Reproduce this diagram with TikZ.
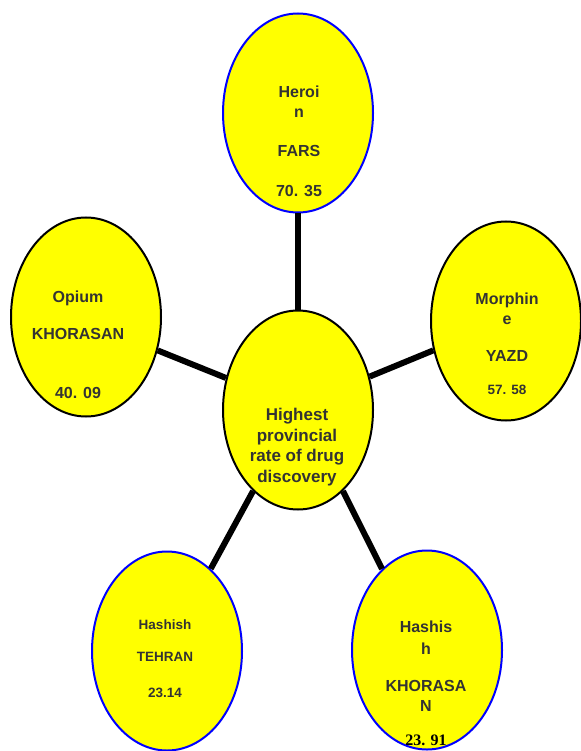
\documentclass[tikz,border=0pt]{standalone}
\usepackage{fontspec}
\setmainfont{Liberation Sans}
\newfontfamily\serifnum{Liberation Serif}
\usetikzlibrary{shapes.geometric}
\definecolor{inkgray}{HTML}{333333}
\definecolor{bubblefill}{HTML}{FFFF00}

\begin{document}
\begin{tikzpicture}[x=1pt,y=-1pt,
		bubble/.style={ellipse, draw=black, line width=2pt, fill=bubblefill, minimum width=150pt, minimum height=199pt, inner sep=0pt},
		bluebubble/.style={bubble, draw=blue},
		txt/.style={align=center, text=inkgray, font=\bfseries\fontsize{16}{19}\selectfont},
		smalltxt/.style={txt, font=\bfseries\fontsize{13.5}{16}\selectfont},
		link/.style={line width=6pt}]
		\useasboundingbox (0,0) rectangle (580,751);
		% the six bubbles
		\node[bluebubble] (heroin) at (298,113) {};
		\node[bubble] (opium) at (86,317) {};
		\node[bubble] (morphine) at (506,321) {};
		\node[bubble] (hub) at (298,410) {};
		\node[bluebubble] (hasht) at (167,651) {};
		\node[bluebubble] (hashk) at (427,650) {};
		% spokes
		\draw [link] (heroin.south) -- (hub.north);
		\draw [link] (opium.-25) -- (hub.156);
		\draw [link] (morphine.202) -- (hub.25);
		\draw [link] (hasht.62) -- (hub.241);
		\draw [link] (hashk.119) -- (hub.299);
		% texts
		\node[txt] (heroin-t) at (299,141) {Heroi\\[1pt]n\\[20pt]FARS\\[21pt]70. 35};
		\node[txt] (opium-t) at (78,345) {Opium\\[18pt]KHORASAN\\[40pt]40. 09};
		\node[txt] (morphine-t) at (507,344) {Morphin\\[1pt]e\\[18pt]YAZD\\[14pt]{\fontsize{13.5}{16}\selectfont 57. 58}};
		\node[txt, font=\bfseries\fontsize{17}{20.5}\selectfont] (hub-t) at (297,447) {Highest\\provincial\\rate of drug\\discovery};
		\node[smalltxt] (hasht-t) at (165,659) {Hashish\\[16pt]TEHRAN\\[20pt]23.14};
		\node[txt] (hashk-t) at (426,666) {Hashis\\[3pt]h\\[18pt]KHORASA\\[1pt]N};
		\node[anchor=base, font=\serifnum\bfseries\fontsize{16}{19}\selectfont] (hashk-v) at (426,745) {23. 91};
	\end{tikzpicture}
\end{document}
